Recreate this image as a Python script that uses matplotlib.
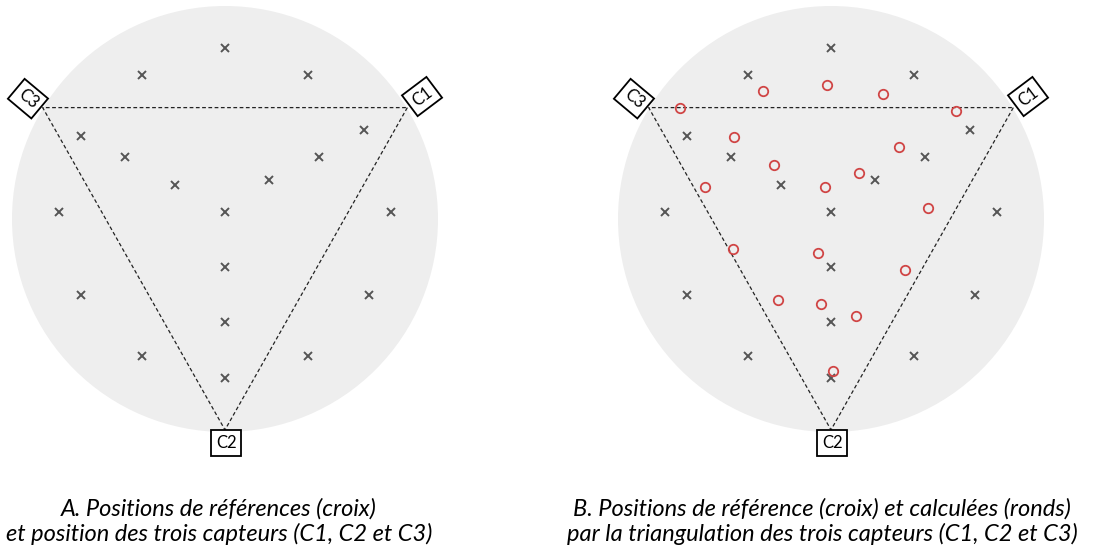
import matplotlib.pyplot as plt
from matplotlib.patches import Circle

plt.rcParams['font.family'] = ['Lato', 'DejaVu Sans']

W, H = 1111, 557

# reference positions (crosses), circle radius = 1
ref_x = [0.0, -0.389, 0.391, -0.676, 0.651, -0.468, 0.441, -0.233, 0.208,
         -0.779, 0.0, 0.781, 0.0, -0.676, 0.676, 0.0, -0.389, 0.391, 0.0]
ref_y = [0.804, 0.675, 0.675, 0.391, 0.418, 0.290, 0.290, 0.160, 0.185,
         0.032, 0.032, 0.032, -0.227, -0.357, -0.357, -0.485, -0.642, -0.642, -0.747]

# positions computed by triangulation (circles)
calc_x = [-0.709, -0.318, -0.017, 0.244, 0.588, -0.454, 0.319, -0.268, 0.133,
          -0.592, -0.028, 0.454, -0.458, -0.059, 0.347, -0.250, -0.047, 0.116, 0.008]
calc_y = [0.520, 0.599, 0.628, 0.587, 0.507, 0.387, 0.339, 0.254, 0.216,
          0.149, 0.150, 0.053, -0.139, -0.161, -0.239, -0.382, -0.398, -0.454, -0.715]

# sensors
sensor_names = ["C1", "C2", "C3"]
sensor_x = [0.856, 0.0, -0.856]
sensor_y = [0.523, -0.99, 0.523]
label_x = [0.925, 0.005, -0.925]
label_y = [0.575, -1.050, 0.565]
label_rot = [37, 0, -40]

captions_a = ["A. Positions de références (croix)",
              "et position des trois capteurs (C1, C2 et C3)"]
captions_b = ["B. Positions de référence (croix) et calculées (ronds)",
              "par la triangulation des trois capteurs (C1, C2 et C3)"]

scale = 213.0  # pixels per unit
cx, cy = 225.0, 219.0
panel_w, panel_h = 450.0, 470.0
offsets = [0, 606]

fig = plt.figure(figsize=(W / 100, H / 100), dpi=100)

for i, off in enumerate(offsets):
    ax = fig.add_axes([off / W, (H - panel_h) / H, panel_w / W, panel_h / H])
    ax.set_xlim(-cx / scale, (panel_w - cx) / scale)
    ax.set_ylim((cy - panel_h) / scale, cy / scale)
    ax.axis("off")

    ax.add_patch(Circle((0, 0), 1.0, facecolor="#eeeeee", edgecolor="none", zorder=0))

    tri_x = sensor_x + [sensor_x[0]]
    tri_y = sensor_y + [sensor_y[0]]
    ax.plot(tri_x, tri_y, color="#222222", lw=0.9, ls=(0, (3, 2)), zorder=1)

    ax.plot(ref_x, ref_y, ls="none", marker="x", ms=6.2, mew=1.4, color="#555555", zorder=2)
    if i == 1:
        ax.plot(calc_x, calc_y, ls="none", marker="o", ms=6.8, mew=1.3,
                mfc="none", mec="#d04545", zorder=3)

    for name, lx, ly, rot in zip(sensor_names, label_x, label_y, label_rot):
        ax.text(lx, ly, name, fontsize=12, rotation=rot, rotation_mode="anchor",
                ha="center", va="center", zorder=4,
                bbox=dict(boxstyle="square,pad=0.3", fc="white", ec="black", lw=1.3))

for xc, lines in [(219, captions_a), (822, captions_b)]:
    for line, base in zip(lines, [516, 541]):
        fig.text(xc / W, 1 - base / H, line, ha="center", va="baseline",
                 fontsize=17, style="italic", color="black")

fig.savefig("out.png", dpi=100)
